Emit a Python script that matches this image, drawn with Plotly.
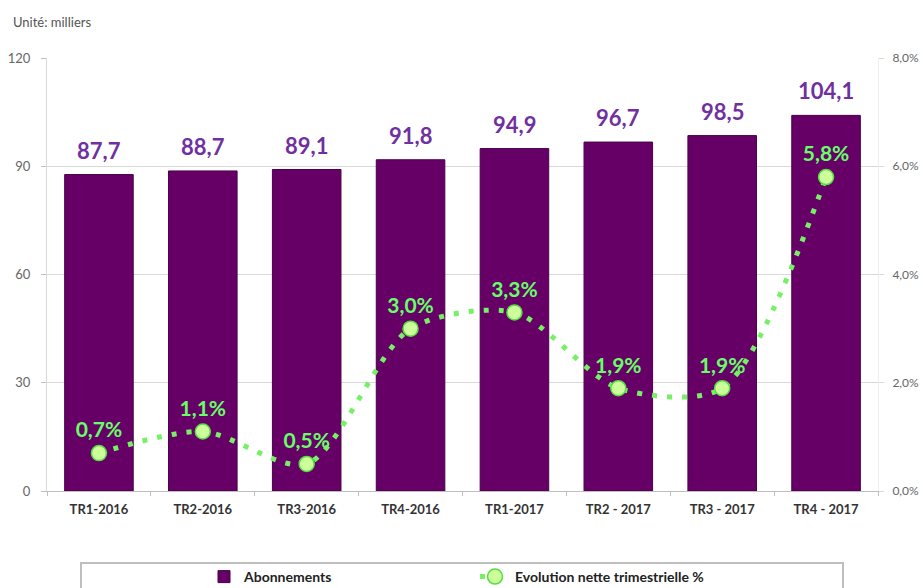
import plotly.graph_objects as go

categories = ["TR1-2016", "TR2-2016", "TR3-2016", "TR4-2016", "TR1-2017", "TR2 - 2017", "TR3 - 2017", "TR4 - 2017"]
abonnements = [87.7, 88.7, 89.1, 91.8, 94.9, 96.7, 98.5, 104.1]
evolution = [0.7, 1.1, 0.5, 3.0, 3.3, 1.9, 1.9, 5.8]
left_ticks = [0, 30, 60, 90, 120]
right_ticks = [0, 2, 4, 6, 8]

def fr(v, suffix=""):
    return f"{v:.1f}".replace(".", ",") + suffix

FONT = "Lato"
L, R, T, B = 47, 45, 58, 97
W, H = 923, 588
PW, PH = W - L - R, H - T - B

def px_x(x):
    return (x - L) / PW

def px_y(y):
    return (H - B - y) / PH

fig = go.Figure()
fig.add_trace(go.Bar(
    x=categories, y=abonnements, name="Abonnements",
    marker=dict(color="#660066", line=dict(color="#4a004a", width=1)),
))
fig.add_trace(go.Scatter(
    x=categories, y=evolution, name="Evolution nette trimestrielle %",
    yaxis="y2", mode="lines+markers+text",
    line=dict(color="#77F066", width=5, dash="5px,10px", shape="spline", smoothing=0.8),
    marker=dict(size=15, color="#CCFF99", line=dict(color="#55DD44", width=1.5)),
    text=[fr(v, "%") for v in evolution], textposition="top center",
    textfont=dict(family=FONT, size=21, color="#66FF66", weight="bold"),
    cliponaxis=False,
))

annotations = [
    dict(x=c, y=v, xref="x", yref="y", text=fr(v), showarrow=False,
         yanchor="bottom", yshift=9,
         font=dict(family=FONT, size=22, color="#7030A0", weight="bold"))
    for c, v in zip(categories, abonnements)
]
annotations.append(dict(text="Unité: milliers", xref="paper", yref="paper",
                        x=px_x(11), y=px_y(22), xanchor="left", yanchor="middle",
                        showarrow=False, font=dict(family=FONT, size=13, color="#555555")))

fig.update_layout(
    width=W, height=H,
    margin=dict(l=L, r=R, t=T, b=B, autoexpand=False),
    paper_bgcolor="white", plot_bgcolor="white",
    bargap=0.34,
    showlegend=True,
    legend=dict(orientation="h", x=px_x(204), xanchor="left", y=px_y(577), yanchor="middle",
                font=dict(family=FONT, size=14, color="#222222", weight="bold"),
                entrywidth=226, bgcolor="rgba(0,0,0,0)"),
    xaxis=dict(tickfont=dict(family=FONT, size=13, color="#333333", weight="bold"),
               showline=True, linecolor="#BFBFBF", ticks="outside", tickson="boundaries",
               ticklen=4, tickcolor="#BFBFBF", ticklabelstandoff=6, showgrid=False),
    yaxis=dict(range=[0, 120], tickvals=left_ticks,
               tickfont=dict(family=FONT, size=13, color="#666666"),
               showgrid=True, gridcolor="#D9D9D9", gridwidth=1,
               showline=True, linecolor="#D9D9D9", ticks="outside", ticklen=5, tickcolor="#BFBFBF",
               ticklabelstandoff=8, zeroline=False),
    yaxis2=dict(range=[0, 8], overlaying="y", side="right",
                tickvals=right_ticks, ticktext=[fr(v, "%") for v in right_ticks],
                tickfont=dict(family=FONT, size=12, color="#666666"),
                showgrid=False, showline=True, linecolor="#EEEEEE",
                ticks="outside", ticklen=5, tickcolor="#D9D9D9", ticklabelstandoff=6,
                zeroline=False),
    shapes=[dict(type="rect", xref="paper", yref="paper",
                 x0=px_x(81), x1=px_x(843), y0=px_y(592), y1=px_y(563),
                 line=dict(color="#BFBFBF", width=2), fillcolor="rgba(0,0,0,0)")],
    annotations=annotations,
)

fig.write_html("out.html",
               config={"displayModeBar": False},
               post_script="document.body.style.margin='0';document.body.style.overflow='hidden';")
